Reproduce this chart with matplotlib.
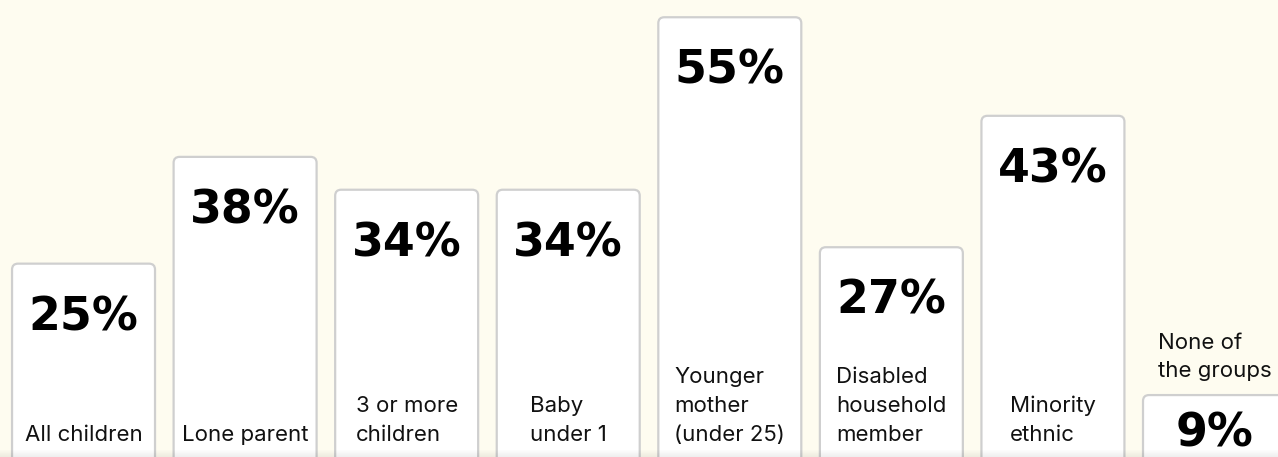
import matplotlib.pyplot as plt
from matplotlib.patches import FancyBboxPatch
from matplotlib.transforms import blended_transform_factory
import numpy as np

# data
groups = ["All children", "Lone parent", "3 or more\nchildren", "Baby\nunder 1",
          "Younger\nmother\n(under 25)", "Disabled\nhousehold\nmember",
          "Minority\nethnic", "None of\nthe groups"]
values = [25, 38, 34, 34, 55, 27, 43, 9]

BG = "#fefcf0"
EDGE = "#cfcfcf"

fig = plt.figure(figsize=(12.78, 4.57), dpi=100, facecolor=BG)
ax = fig.add_axes([0, 0, 1, 1])
ax.set_facecolor(BG)

x = np.arange(len(values))
ax.set_xlim(-0.517, 7.393)
ax.set_ylim(1.46, 57.1)
ax.axis("off")

width = 0.885
# rounded bars
px_x = 1278 / (7.393 + 0.517)
px_y = 457 / (57.1 - 1.46)
r = 6 / px_x
aspect = (6 / px_y) / r
for xi, v in zip(x, values):
    p = FancyBboxPatch((xi - width / 2, 0), width, v,
                       boxstyle=f"round,pad=0,rounding_size={r}",
                       mutation_aspect=aspect,
                       facecolor="white", edgecolor=EDGE, linewidth=1.6, zorder=2)
    ax.add_patch(p)

trans = blended_transform_factory(ax.transData, ax.transAxes)
big = dict(fontfamily="DejaVu Sans", fontweight="bold", fontsize=33, color="black")
small = dict(fontfamily="Inter", fontsize=16, color="#111111")

for i, (g, v) in enumerate(zip(groups, values)):
    if i == len(values) - 1:
        # short bar: value inside, label above
        ax.annotate(f"{v}%", (i, v), xytext=(0, -37), textcoords="offset points",
                    ha="center", va="baseline", zorder=3, **big)
        ax.annotate(g, (i, v), xytext=(0, 10), textcoords="offset points",
                    ha="center", va="bottom", multialignment="left",
                    linespacing=1.5, zorder=3, **small)
    else:
        ax.annotate(f"{v}%", (i, v), xytext=(0, -48), textcoords="offset points",
                    ha="center", va="baseline", zorder=3, **big)
        ax.text(i, 12 / 457, g, transform=trans, ha="center", va="bottom",
                multialignment="left", linespacing=1.56, zorder=3, **small)

# faint shade along the bottom edge
grad = np.linspace(0.07, 0, 40).reshape(-1, 1)
shade = np.dstack([np.zeros_like(grad)] * 3 + [grad])
ax.imshow(shade, extent=(-0.517, 7.393, 1.46, 1.46 + 8 / px_y), aspect="auto",
          origin="lower", zorder=5, interpolation="bilinear")
ax.set_xlim(-0.517, 7.393)
ax.set_ylim(1.46, 57.1)

fig.savefig("out.png", dpi=100, facecolor=BG)
